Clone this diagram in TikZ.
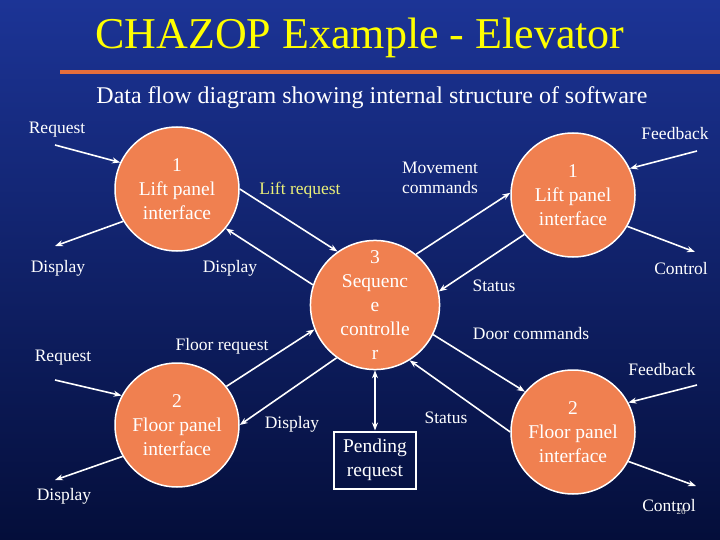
\documentclass[tikz,border=0pt]{standalone}
\usepackage{fontspec}
\setmainfont{Liberation Serif}
\usetikzlibrary{arrows.meta}
\definecolor{bgtop}{RGB}{28,52,150}
\definecolor{bgbot}{RGB}{4,14,58}
\definecolor{proc}{RGB}{240,128,80}
\definecolor{ttl}{RGB}{255,255,0}
\definecolor{lbly}{RGB}{235,240,120}
\definecolor{rule}{RGB}{230,110,60}
\begin{document}
\begin{tikzpicture}[x=1pt,y=-1pt,
  proc/.style={circle,fill=proc,draw=white,line width=1.5pt,minimum size=124pt,inner sep=0pt,text=white,align=center,font=\fontsize{19.5}{24}\selectfont},
  store/.style={rectangle,draw=white,line width=2pt,text=white,align=center,minimum width=82pt,minimum height=57pt,inner sep=2pt,font=\fontsize{19.5}{24}\selectfont},
  lbl/.style={text=white,font=\fontsize{17.5}{20}\selectfont,align=center,inner sep=0pt},
  flow/.style={draw=white,line width=1.6pt,-{Stealth[length=8pt,width=6pt]}}]
\shade[top color=bgtop,bottom color=bgbot] (0,0) rectangle (720,540);
\useasboundingbox (0,0) rectangle (720,540);
\fill[rule] (60,70) rectangle (720,74);
\node[text=ttl,font=\fontsize{44}{48}\selectfont,inner sep=0pt] (title) at (360,38) {CHAZOP Example - Elevator};
\node[text=white,font=\fontsize{24}{26}\selectfont,inner sep=0pt] (sub) at (372,98) {Data flow diagram showing internal structure of software};

\node[proc] (lp1) at (177,189) {1\\Lift panel\\interface};
\node[proc] (lpr) at (573,195) {1\\Lift panel\\interface};
\node[proc,minimum size=120pt] (seq) at (375,305) {3\\Sequenc\\e\\controlle\\r};
\node[proc] (fpl) at (177,425) {2\\Floor panel\\interface};
\node[proc] (fpr) at (573,432) {2\\Floor panel\\interface};
\node[store] (pend) at (375,460) {Pending\\request};

\node[lbl] (l1) at (57,130) {Request};
\node[lbl] (l2) at (675,134) {Feedback};
\node[lbl,text=lbly] (l3) at (300,190) {Lift request};
\node[lbl] (l4) at (440,178) {Movement\\commands};
\node[lbl] (l5) at (58,268) {Display};
\node[lbl] (l6) at (230,268) {Display};
\node[lbl] (l7) at (681,269) {Control};
\node[lbl] (l8) at (494,286) {Status};
\node[lbl] (l9) at (531,334) {Door commands};
\node[lbl] (l10) at (63,358) {Request};
\node[lbl] (l11) at (222,346) {Floor request};
\node[lbl] (l12) at (662,370) {Feedback};
\node[lbl] (l13) at (292,424) {Display};
\node[lbl] (l14) at (446,418) {Status};
\node[lbl] (l15) at (64,496) {Display};
\node[lbl] (l16) at (669,506) {Control};
\node[text=white!70!gray,font=\fontsize{9}{10}\selectfont,inner sep=0pt] (pg) at (681,512) {26};

\coordinate (c1) at (55,145);
\coordinate (c2) at (55,246);
\coordinate (c3) at (697,151);
\coordinate (c4) at (695,252);
\coordinate (c5) at (55,380);
\coordinate (c6) at (55,480);
\coordinate (c7) at (697,385);
\coordinate (c8) at (696,486);

\draw[flow] (c1) -- (lp1.155);
\draw[flow] (lp1.211) -- (c2);
\draw[flow] (lp1.0) -- (seq.125);
\draw[flow] (seq.162) -- (lp1.321);
\draw[flow] (seq.51) -- (lpr.178);
\draw[flow] (lpr.219) -- (seq.12);
\draw[flow] (c3) -- (lpr.25);
\draw[flow] (lpr.330) -- (c4);
\draw[flow] (c5) -- (fpl.152);
\draw[flow] (fpl.38) -- (seq.202);
\draw[flow] (seq.234) -- (fpl.0);
\draw[flow] (fpl.210) -- (c6);
\draw[flow,{Stealth[length=8pt,width=6pt]}-{Stealth[length=8pt,width=6pt]}] (seq.270) -- (pend.north);
\draw[flow] (fpr.180) -- (seq.302);
\draw[flow] (seq.333) -- (fpr.140);
\draw[flow] (c7) -- (fpr.28);
\draw[flow] (fpr.332) -- (c8);
\end{tikzpicture}
\end{document}
